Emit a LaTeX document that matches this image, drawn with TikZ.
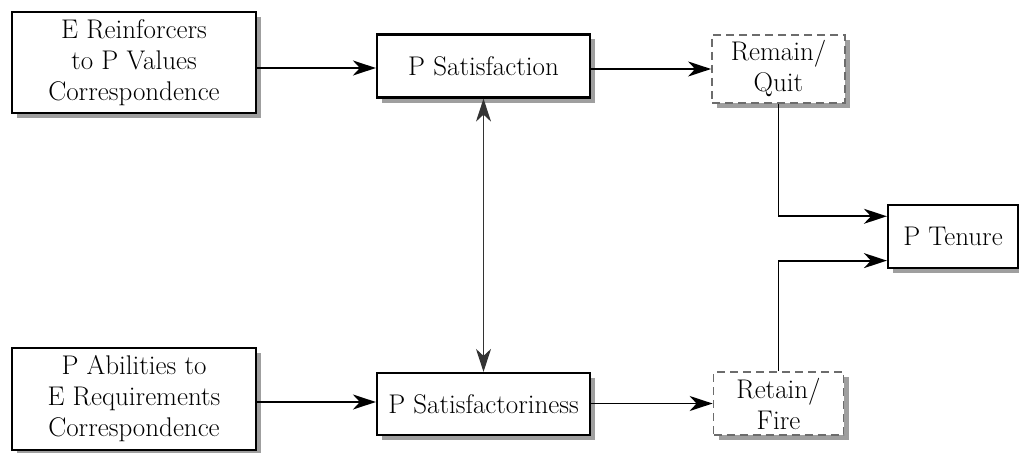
\documentclass[tikz,border=0pt]{standalone}
\usetikzlibrary{arrows.meta,shadows,calc}
\begin{document}
\begin{tikzpicture}[x=1pt,y=-1pt,
  box/.style={draw=black, line width=2.2pt, fill=white, align=center, inner sep=0pt,
    font=\fontsize{27}{31}\selectfont,
    drop shadow={shadow xshift=5pt, shadow yshift=-5pt, fill=gray!75, opacity=1}},
  dbox/.style={box, draw=gray!85!black, line width=1.8pt, dash pattern=on 8pt off 5pt},
  tip/.tip={Stealth[length=23pt,width=15pt,inset=7pt]},
  arr/.style={line width=1.8pt, -tip},
  darr/.style={line width=1.2pt, draw=black!80, tip-tip}]
\useasboundingbox (0,0) rectangle (1019,452);
\node[box, minimum width=244pt, minimum height=101pt] (A) at (134,62.5) {E Reinforcers\\to P Values\\Correspondence};
\node[box, minimum width=213pt, minimum height=63pt] (B) at (483.5,66) {P Satisfaction};
\node[dbox, minimum width=133pt, minimum height=68pt] (C) at (778.5,69) {Remain/\\Quit};
\node[box, minimum width=130pt, minimum height=63pt] (T) at (953,236.5) {P Tenure};
\node[box, minimum width=244pt, minimum height=102pt] (D) at (134,399) {P Abilities to\\E Requirements\\Correspondence};
\node[box, minimum width=213pt, minimum height=62pt] (E) at (483.5,404) {P Satisfactoriness};
\node[dbox, minimum width=130pt, minimum height=63pt] (F) at (778.5,403.5) {Retain/\\Fire};
\draw[arr] (A.east |- 0,68) -- (B.west |- 0,68);
\draw[arr] (B.east |- C.west) -- (C.west);
\draw[arr] (D.east |- 0,402) -- (E.west |- 0,402);
\draw[arr] (E.east |- F.west) -- (F.west);
\draw[darr] (B.south) -- (E.north);
\draw[arr] (C.south) |- ($(T.north west)!0.19!(T.south west)$);
\draw[arr] (F.north) |- ($(T.north west)!0.87!(T.south west)$);
\end{tikzpicture}
\end{document}
